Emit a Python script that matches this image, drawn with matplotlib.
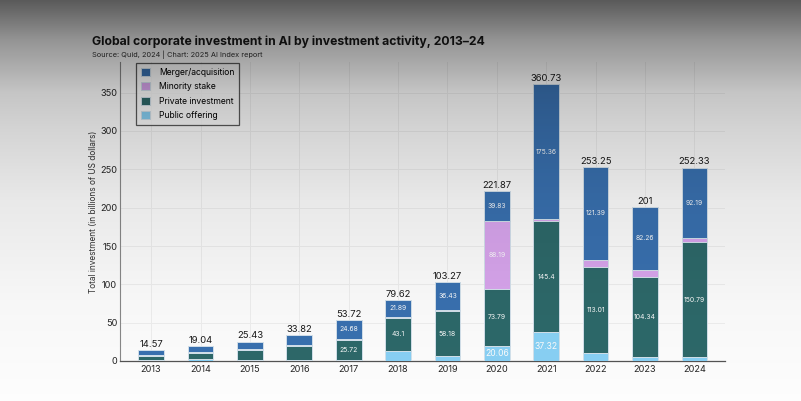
import matplotlib

matplotlib.use("Agg")

import matplotlib.pyplot as plt
import numpy as np

plt.rcParams["font.family"] = ["Inter", "DejaVu Sans"]

years = ["2013", "2014", "2015", "2016", "2017", "2018",
         "2019", "2020", "2021", "2022", "2023", "2024"]
public_offering = [0.8, 2.24, 0.8, 1.02, 1.52, 13.2, 6.5, 20.06, 37.32, 10.15, 4.9, 4.6]
private_investment = [6.0, 8.5, 13.43, 19.0, 25.72, 43.1, 58.18, 73.79, 145.4, 113.01, 104.34, 150.79]
minority_stake = [1.5, 0.4, 1.2, 1.3, 1.8, 1.43, 2.16, 88.19, 2.65, 8.7, 9.5, 4.75]
merger_acquisition = [6.27, 7.9, 10.0, 12.5, 24.68, 21.89, 36.43, 39.83, 175.36, 121.39, 82.26, 92.19]
totals = [14.57, 19.04, 25.43, 33.82, 53.72, 79.62, 103.27, 221.87, 360.73, 253.25, 201, 252.33]

series = [
    ("Public offering", public_offering, "#8ad3f7"),
    ("Private investment", private_investment, "#2e6a6b"),
    ("Minority stake", minority_stake, "#dba7f0"),
    ("Merger/acquisition", merger_acquisition, "#3a72b2"),
]

fig = plt.figure(figsize=(8.01, 4.01), dpi=100)
fig.patch.set_facecolor("white")
ax = fig.add_axes([120 / 801, 40 / 401, 605 / 801, 299 / 401])
ax.set_facecolor("white")

x = np.arange(len(years))
bottom = np.zeros(len(years))
handles = {}
for name, values, color in series:
    vals = np.array(values)
    bars = ax.bar(x, vals, 0.52, bottom=bottom, color=color,
                  edgecolor="#d6e4ee", linewidth=0.7, zorder=3, label=name)
    handles[name] = bars
    for xi, v, b in zip(x, vals, bottom):
        if v > 20:
            size = 6.2 if name == "Public offering" else 4.9
            ax.text(xi, b + v / 2, f"{v:g}", ha="center", va="center",
                    color="white", fontsize=size, zorder=4)
    bottom = bottom + vals

for xi, t in zip(x, totals):
    ax.text(xi, t + 1.5, f"{t:g}", ha="center", va="bottom",
            fontsize=6.8, color="#1a1a1a", zorder=4)

ax.set_xlim(-0.63, 11.62)
ax.set_ylim(0, 390)
ax.set_xticks(x)
ax.set_xticklabels(years)
ax.set_yticks(np.arange(0, 351, 50))
ax.tick_params(axis="both", length=0, labelsize=6.6, colors="#262626")
ax.tick_params(axis="y", pad=2)
ax.tick_params(axis="x", pad=3)
ax.grid(True, color="#f1f1f1", linewidth=0.7, zorder=0)
ax.set_axisbelow(True)
for side in ["top", "right"]:
    ax.spines[side].set_visible(False)
ax.spines["left"].set_color("#8a8a8a")
ax.spines["bottom"].set_color("#555555")
ax.spines["left"].set_linewidth(0.8)
ax.spines["bottom"].set_linewidth(0.9)
ax.set_ylabel("Total investment (in billions of US dollars)", fontsize=6,
              color="#333333", labelpad=1.5)

order = ["Merger/acquisition", "Minority stake", "Private investment", "Public offering"]
leg = ax.legend([handles[n] for n in order], order, loc="upper left",
                bbox_to_anchor=(136 / 801, 1 - 63 / 401),
                bbox_transform=fig.transFigure, borderaxespad=0,
                fontsize=6.2, frameon=True, fancybox=False,
                handlelength=1.1, handleheight=1.1, handletextpad=1.0,
                labelspacing=0.62, borderpad=0.55)
leg.get_frame().set_edgecolor("#333333")
leg.get_frame().set_linewidth(0.9)
leg.set_zorder(5)

fig.text(92 / 801, 1 - 42 / 401,
         "Global corporate investment in AI by investment activity, 2013\u201324",
         fontsize=8.8, fontweight="bold", color="#1a1a1a", va="center")
fig.text(92 / 801, 1 - 55 / 401, "Source: Quid, 2024 | Chart: 2025 AI Index report",
         fontsize=5.3, color="#333333", va="center")

# darkening gradient from the top of the screenshot
ys = [0, 40, 92, 130, 200, 300, 401]
alphas = [0.65, 0.42, 0.23, 0.17, 0.09, 0.035, 0.01]
col = np.interp(np.arange(401), ys, alphas)
shade = np.zeros((401, 1, 4))
shade[:, 0, 3] = col
ov = fig.add_axes([0, 0, 1, 1], zorder=10)
ov.imshow(shade, aspect="auto", extent=(0, 1, 0, 1), interpolation="bilinear")
ov.axis("off")

fig.savefig("out.png", dpi=100)
